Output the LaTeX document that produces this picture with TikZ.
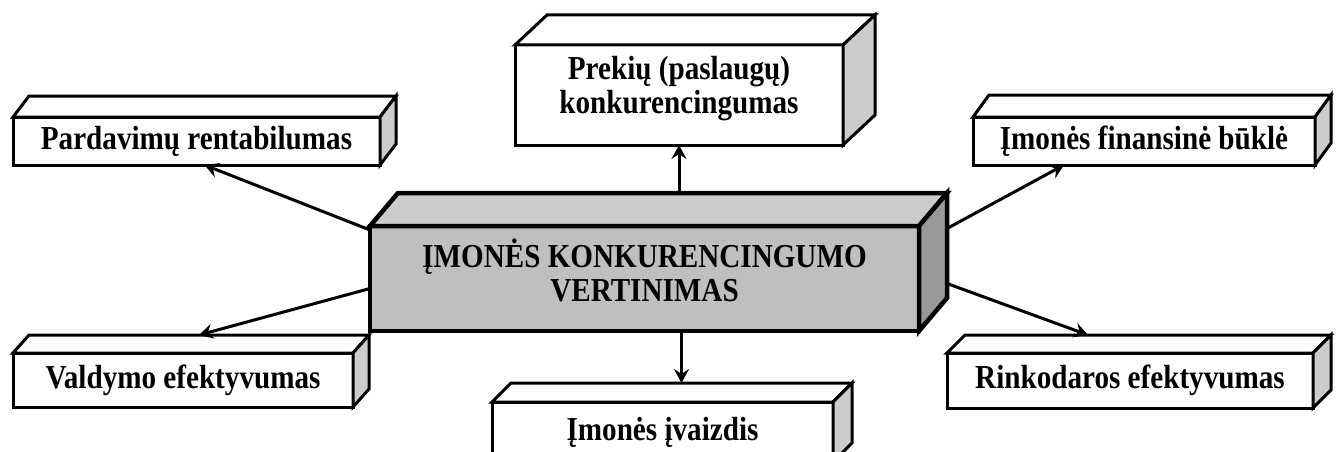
\documentclass[tikz,border=0pt]{standalone}
\usepackage{fontspec}
\setmainfont{Liberation Serif}[FakeStretch=0.87]
\usetikzlibrary{arrows.meta}

% front face is the node, top and side faces are drawn from its anchors
\newcommand\cuboid[6][3pt]{%
  \draw[line width=#1, fill=#5] (#2.north west) -- +(#3,#4) -- ([shift={(#3,#4)}]#2.north east) -- (#2.north east) -- cycle;
  \draw[line width=#1, fill=#6] (#2.north east) -- +(#3,#4) -- ([shift={(#3,#4)}]#2.south east) -- (#2.south east) -- cycle;
}

\begin{document}
\begin{tikzpicture}[x=1pt, y=-1pt,
  panel/.style={draw, line width=3pt, fill=white, outer sep=0pt, inner sep=2pt, align=center,
    font=\fontsize{33.5}{34}\selectfont\bfseries},
  arr/.style={line width=3pt, -{Stealth[length=14pt, width=15pt, inset=5pt]}}]

\useasboundingbox (0,0) rectangle (1341,452);
\clip (0,0) rectangle (1341,452);

\node[panel, text depth=20pt, minimum width=328pt, minimum height=100pt] (prek) at (679,95) {Prekių (paslaugų)\\konkurencingumas};
\cuboid{prek}{32}{-30}{white}{gray!40}

\node[panel, minimum width=367pt, minimum height=48pt] (pard) at (196.5,141) {Pardavimų rentabilumas};
\cuboid{pard}{16}{-21}{white}{gray!40}

\node[panel, minimum width=342pt, minimum height=48pt] (fin) at (1144,141) {Įmonės finansinė būklė};
\cuboid{fin}{16}{-22}{white}{gray!40}

\node[panel, text depth=16pt, line width=4.5pt, fill=gray!50, minimum width=549pt, minimum height=105pt] (core) at (644.5,278.5) {ĮMONĖS KONKURENCINGUMO\\VERTINIMAS};
\cuboid[4.5pt]{core}{28}{-33}{gray!40}{gray!80}

\node[panel, minimum width=340pt, minimum height=54pt] (vald) at (183,380) {Valdymo efektyvumas};
\cuboid{vald}{16}{-18}{white}{gray!40}

\node[panel, minimum width=366pt, minimum height=55pt] (rink) at (1130,380.5) {Rinkodaros efektyvumas};
\cuboid{rink}{18}{-18}{white}{gray!40}

\node[panel, minimum width=341pt, minimum height=60pt] (ivaiz) at (662.5,432) {Įmonės įvaizdis};
\cuboid{ivaiz}{19}{-19}{white}{gray!40}

% connectors
\coordinate (coreTop) at ([shift={(28,-33)}]core.north);
\coordinate (coreBack) at ([shift={(28,-33)}]core.east);
\coordinate (ivTop) at ([shift={(19,-19)}]ivaiz.north);
\coordinate (valdTop) at ([shift={(16,-18)}]vald.north);
\coordinate (rinkTop) at ([shift={(18,-18)}]rink.north);

\draw[arr] (coreTop -| prek.south) -- (prek.south);
\draw[arr] (core.south -| ivTop) -- (ivTop);
\draw[arr] ([yshift=-4pt]core.north west) -- ([xshift=8pt]pard.south);
\draw[arr] ([yshift=-10pt]core.west) -- (valdTop);
\draw[arr] ([yshift=17pt]coreBack) -- ([xshift=-80pt]fin.south);
\draw[arr] ([yshift=-38pt]coreBack) -- ([xshift=-60pt]rinkTop);
\end{tikzpicture}
\end{document}
